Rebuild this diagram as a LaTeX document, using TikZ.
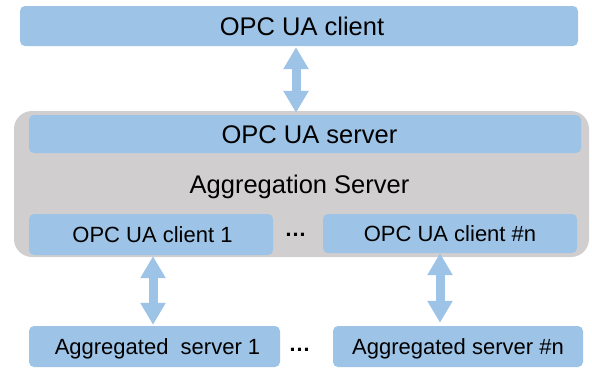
\documentclass[tikz,border=0pt]{standalone}
\usepackage{fontspec}
\setmainfont{Liberation Sans}
\usetikzlibrary{arrows.meta}
\definecolor{boxblue}{HTML}{9DC3E6}
\definecolor{boxgray}{HTML}{D0CECE}
\tikzset{
  bluebox/.style={fill=boxblue, draw=none, rounded corners=5pt, inner sep=0pt,
    anchor=center, text=black},
  bigtext/.style={font=\fontsize{25.5}{30}\selectfont, text height=18.2pt, text depth=0pt},
  smalltext/.style={font=\fontsize{22}{26}\selectfont, text height=15.7pt, text depth=0pt},
  grayframe/.style={fill=boxgray, draw=none, rounded corners=18pt, inner sep=0pt},
  bigarrow/.style={draw=boxblue, line width=9pt,
    {Triangle[width=24pt,length=22pt]}-{Triangle[width=24pt,length=22pt]}},
  dots/.style={font=\fontsize{22}{26}\selectfont\bfseries, inner sep=0pt, anchor=base},
}
\begin{document}
\begin{tikzpicture}[x=1pt,y=-1pt]
\useasboundingbox (0,0) rectangle (592,370);
% top client
\node[bluebox,bigtext,minimum width=558pt,minimum height=40pt] (top) at (299,26) {\hspace{6pt}OPC UA client};
% gray aggregation server frame
\node[grayframe,minimum width=575pt,minimum height=146pt] (agg) at (301.5,184) {};
\node[bigtext,inner sep=0pt,anchor=base] (aggl) at (299.5,193) {Aggregation Server};
\node[bluebox,bigtext,minimum width=552pt,minimum height=38pt] (server) at (305,134) {\hspace{9pt}OPC UA server};
\node[bluebox,smalltext,minimum width=244pt,minimum height=41pt] (c1) at (151,234.5) {\hspace{3pt}OPC UA client 1};
\node[bluebox,smalltext,minimum width=254pt,minimum height=39pt] (cn) at (450,233.5) {OPC UA client \#n};
\node[dots] (d1) at (295.5,236) {…};
% aggregated servers
\node[bluebox,smalltext,minimum width=251pt,minimum height=41pt] (s1) at (154.5,346.5) {\hspace{6pt}Aggregated\ \ server 1};
\node[bluebox,smalltext,minimum width=250pt,minimum height=41pt] (sn) at (458,346.5) {Aggregated server \#n};
\node[dots] (d2) at (299.5,351) {…};
% arrows
\coordinate (ax1) at (296,0);
\coordinate (ax2) at (153,0);
\coordinate (ax3) at (440,0);
\draw[bigarrow] ([yshift=-1pt]top.south -| ax1) -- ([yshift=2pt]server.north -| ax1);
\draw[bigarrow] ([yshift=-1pt]c1.south -| ax2) -- ([yshift=1pt]s1.north -| ax2);
\draw[bigarrow] ([yshift=0pt]cn.south -| ax3) -- ([yshift=3pt]sn.north -| ax3);
\end{tikzpicture}
\end{document}
